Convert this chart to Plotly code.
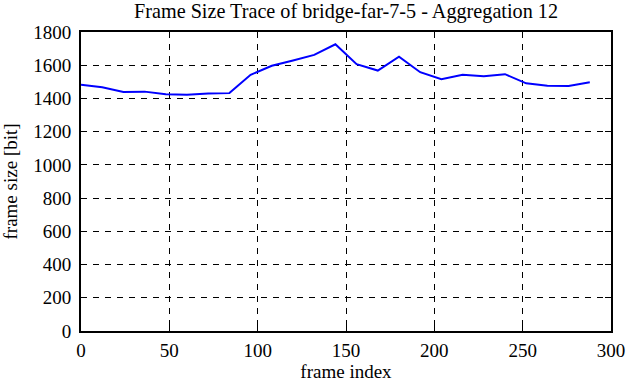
import plotly.graph_objects as go

frame_index = [0, 12, 24, 36, 48, 60, 72, 84, 96, 108, 120, 132, 144, 156, 168,
               180, 192, 204, 216, 228, 240, 252, 264, 276, 288]
frame_size = [1483, 1467, 1439, 1441, 1425, 1422, 1430, 1432, 1542, 1597, 1629,
              1662, 1726, 1606, 1568, 1651, 1558, 1516, 1542, 1534, 1546, 1491,
              1477, 1475, 1498]

x_ticks = [0, 50, 100, 150, 200, 250, 300]
y_ticks = [0, 200, 400, 600, 800, 1000, 1200, 1400, 1600, 1800]
x_tick_labels = [str(v) for v in x_ticks]
y_tick_labels = [str(v) for v in y_ticks]

font = "Liberation Serif"
tick_font = "Times New Roman, Liberation Serif, serif"

fig = go.Figure()
fig.add_trace(go.Scatter(x=frame_index, y=frame_size, mode="lines",
                         line=dict(color="#0000ff", width=2), showlegend=False))

axis_common = dict(
    showline=True, linecolor="black", linewidth=2, mirror="ticks",
    ticks="inside", ticklen=6, tickwidth=1, tickcolor="black",
    showgrid=True, gridcolor="black", gridwidth=1, griddash="6px,6px",
    zeroline=False, automargin=False,
    tickfont=dict(family=tick_font, size=19, color="black"),
)

fig.update_layout(
    width=626, height=382,
    margin=dict(l=81, r=15, t=32, b=51, autoexpand=False),
    font=dict(family=font, size=19, color="black"),
    paper_bgcolor="white", plot_bgcolor="white",
    title=dict(text="Frame Size Trace of bridge-far-7-5 - Aggregation 12",
               x=0.5, xref="paper", xanchor="center",
               y=0.99, yref="container", yanchor="top",
               font=dict(family=font, size=20.2, color="black")),
    xaxis=dict(range=[0, 300], tickvals=x_ticks, ticktext=x_tick_labels,
               ticklabelstandoff=1,
               title=dict(text="frame index", standoff=7,
                          font=dict(family=font, size=19, color="black")),
               **axis_common),
    yaxis=dict(range=[0, 1800], tickvals=y_ticks, ticktext=y_tick_labels,
               ticklabelstandoff=4,
               title=dict(text="frame size [bit]", standoff=14,
                          font=dict(family=font, size=19, color="black")),
               **axis_common),
)

fig.write_html("out.html", config={"displayModeBar": False},
               post_script="document.body.style.margin='0px';")
